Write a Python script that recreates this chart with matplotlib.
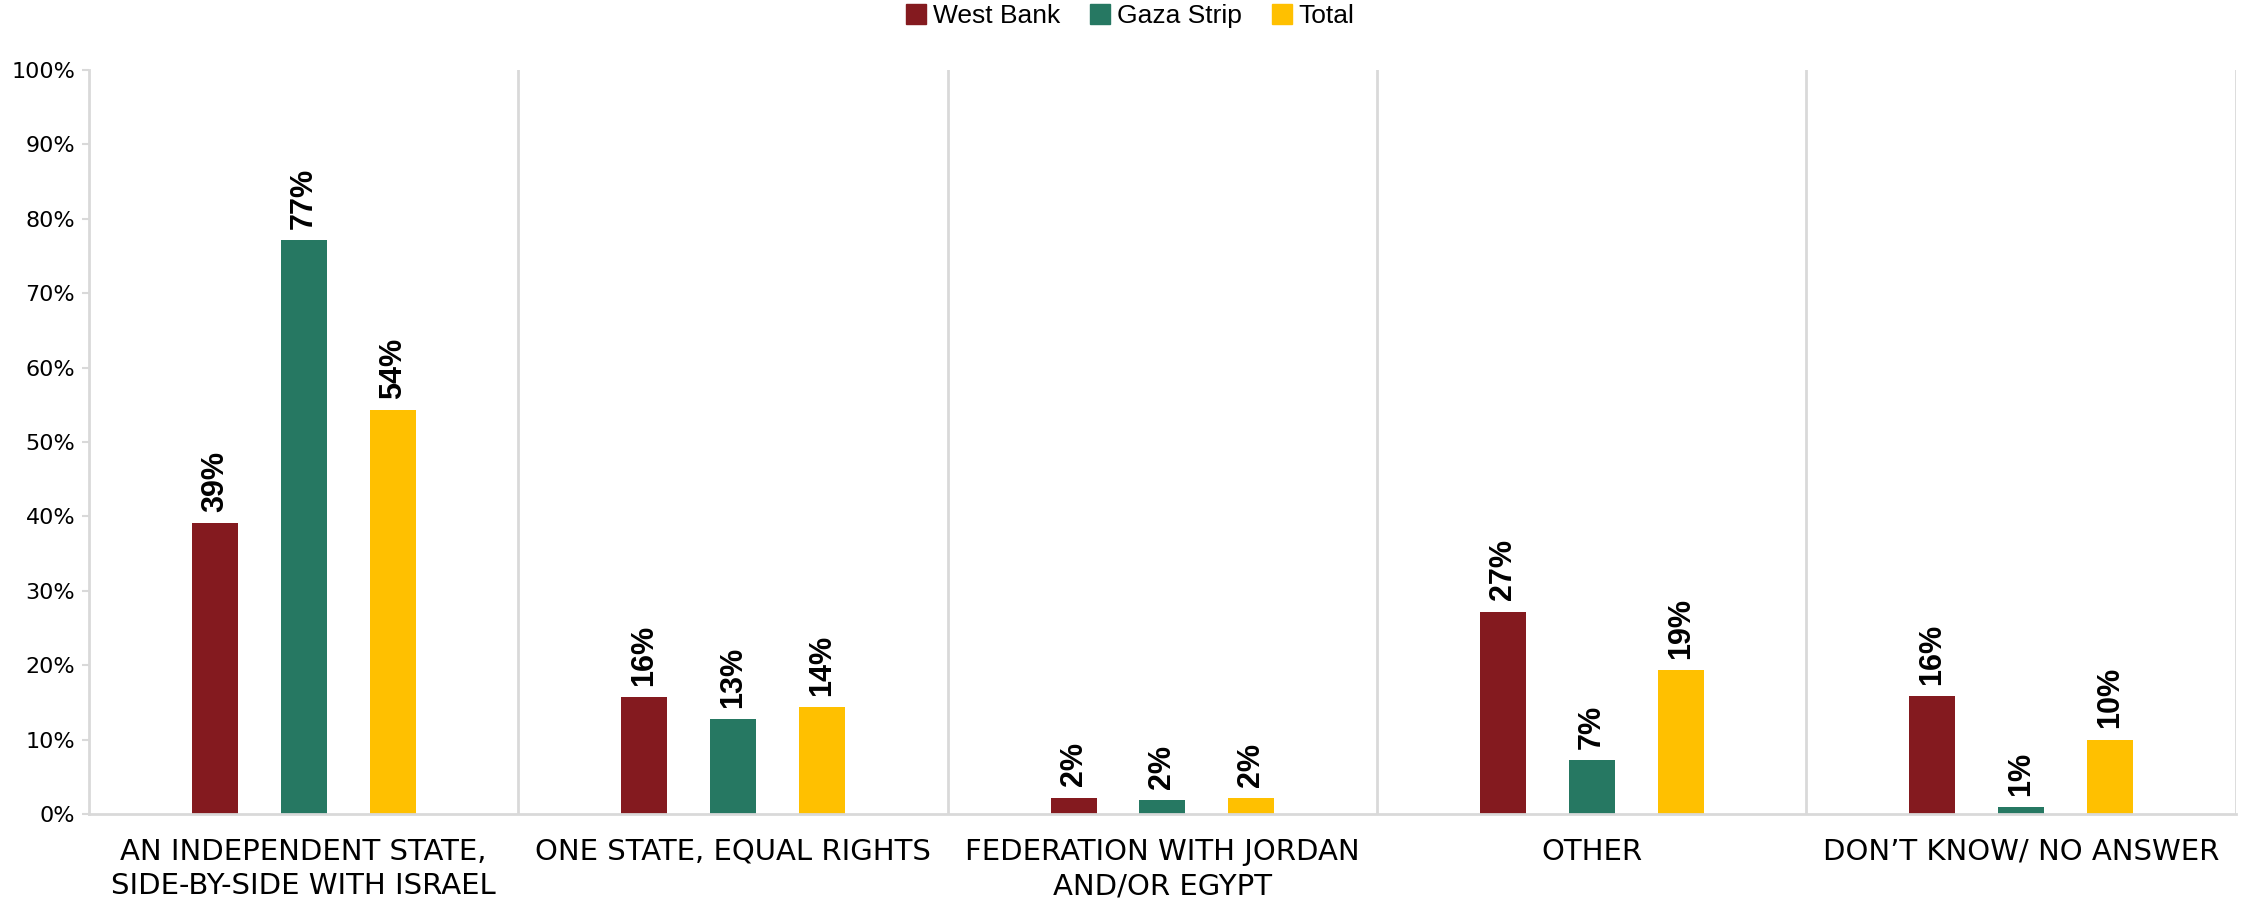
import matplotlib
matplotlib.use("Agg")
import matplotlib.pyplot as plt
import numpy as np
from matplotlib.lines import Line2D

categories = [
    "AN INDEPENDENT STATE,\nSIDE-BY-SIDE WITH ISRAEL",
    "ONE STATE, EQUAL RIGHTS",
    "FEDERATION WITH JORDAN\nAND/OR EGYPT",
    "OTHER",
    "DON\u2019T KNOW/ NO ANSWER",
]
series_names = ["West Bank", "Gaza Strip", "Total"]
west_bank = [39.1, 15.7, 2.2, 27.2, 15.9]
gaza_strip = [77.2, 12.7, 1.9, 7.3, 0.9]
total = [54.3, 14.4, 2.1, 19.3, 10.0]
colors = ["#841A1F", "#267862", "#FFC000"]

fig = plt.figure(figsize=(22.55, 9.02), dpi=100)
ax = fig.add_axes([0.0395, 0.0976, 0.952, 0.8248])

x = np.arange(len(categories))
offsets = [-0.207, 0.0, 0.207]
width = 0.107
for vals, off, col, name in zip([west_bank, gaza_strip, total], offsets, colors, series_names):
    bars = ax.bar(x + off, vals, width, color=col, label=name)
    for b, v in zip(bars, vals):
        ax.annotate(f"{round(v)}%", (b.get_x() + b.get_width() / 2, v),
                    xytext=(0, 8), textcoords="offset points",
                    rotation=90, ha="center", va="bottom",
                    fontsize=22, fontweight="bold", family="Liberation Sans")

ax.set_xlim(-0.5, len(categories) - 0.5)
ax.set_ylim(0, 100)
ax.set_yticks(np.arange(0, 101, 10))
ax.set_yticklabels([f"{t}%" for t in range(0, 101, 10)], fontsize=16, family="DejaVu Sans")
ax.tick_params(axis="y", length=5, color="#d9d9d9", width=1.5, pad=5)
ax.set_xticks(x)
ax.set_xticklabels(categories, fontsize=21, family="DejaVu Sans", linespacing=1.3)
ax.tick_params(axis="x", length=0, pad=17)

for s in ["top", "right"]:
    ax.spines[s].set_visible(False)
for s in ["left", "bottom"]:
    ax.spines[s].set_color("#d9d9d9")
    ax.spines[s].set_linewidth(2)
for b in np.arange(0.5, len(categories), 1.0):
    ax.axvline(b, color="#d9d9d9", lw=2, zorder=0)

handles = [Line2D([], [], marker="s", ls="none", markersize=14, color=c) for c in colors]
fig.legend(handles, series_names, loc="center", bbox_to_anchor=(0.5, 0.982), ncol=3,
           frameon=False, handletextpad=0.05, columnspacing=0.9, handlelength=1.2,
           prop={"family": "Liberation Sans", "size": 19})

fig.savefig("out.png", dpi=100)
